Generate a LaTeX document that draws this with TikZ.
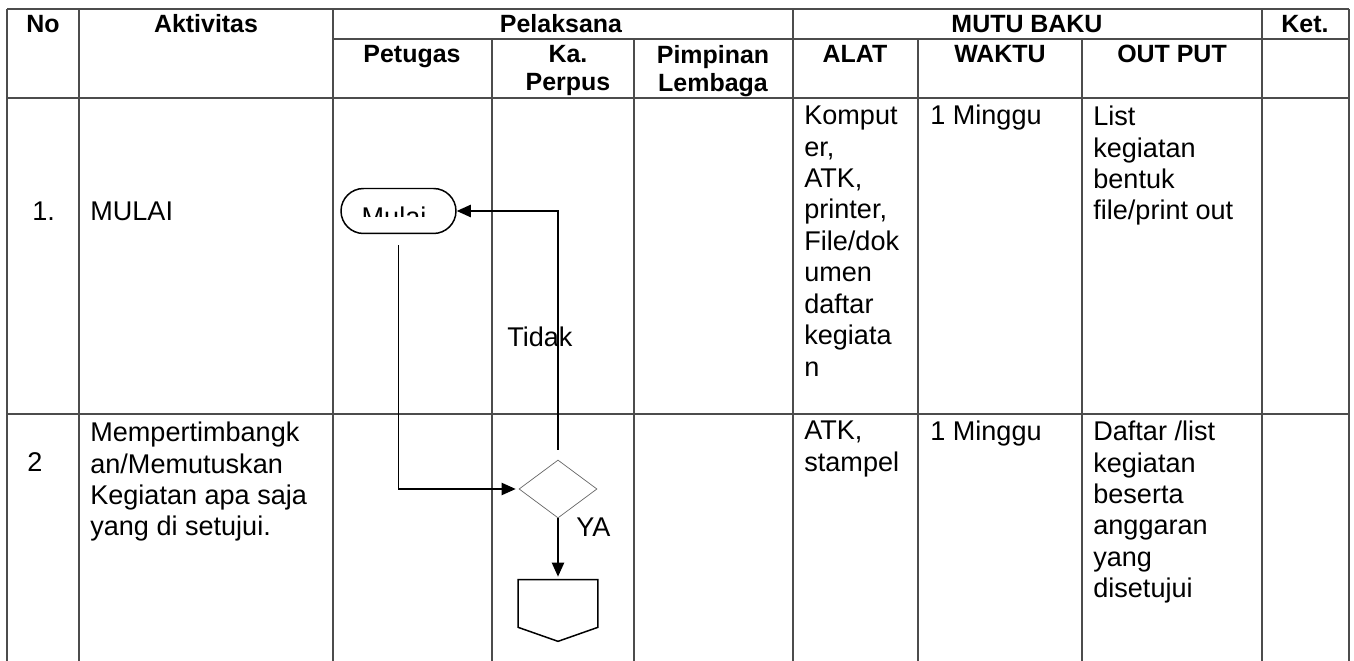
\documentclass[tikz,border=0pt]{standalone}
\usepackage{fontspec}
\setmainfont{Liberation Sans}
\usetikzlibrary{arrows.meta, positioning, shapes.geometric, shapes.misc}

\tikzset{
	grid/.style={draw=black!70, line width=0.6pt},
	flow/.style={line width=0.85pt, -{Triangle[length=8pt, width=7pt]}},
	head/.style={font=\bfseries\fontsize{14.2}{15.9}\selectfont, inner sep=0pt, align=center},
	body/.style={font=\fontsize{15.4}{17.9}\selectfont, inner sep=0pt, align=left},
	terminal/.style={rounded rectangle, draw, line width=0.85pt, minimum width=2.3cm, minimum height=0.9cm, inner sep=0pt},
	decision/.style={diamond, draw=black!60, line width=0.4pt, minimum width=1.56cm, minimum height=1.16cm, inner sep=0pt},
	offpagebox/.style={rectangle, minimum width=1.58cm, minimum height=1.22cm, inner sep=0pt},
}

\begin{document}
\begin{tikzpicture}[x=0.02cm, y=-0.02cm]
		\useasboundingbox (0,0) rectangle (1354,661);
		% Table lines:
		\draw[grid] (7,9) -- (1349,9);
		\draw[grid] (333,39) -- (1349,39);
		\draw[grid] (7,98) -- (1349,98);
		\draw[grid] (7,414) -- (1349,414);
		\draw[grid] (7,9) -- (7,661);
		\draw[grid] (79,9) -- (79,661);
		\draw[grid] (333,9) -- (333,661);
		\draw[grid] (492,39) -- (492,661);
		\draw[grid] (634,39) -- (634,661);
		\draw[grid] (793,9) -- (793,661);
		\draw[grid] (918,39) -- (918,661);
		\draw[grid] (1082,39) -- (1082,661);
		\draw[grid] (1262,9) -- (1262,661);
		\draw[grid] (1349,9) -- (1349,661);
		% Header:
		\node[head, anchor=base] (hNo) at (43,33) {No};
		\node[head, anchor=base] (hAkt) at (206,33) {Aktivitas};
		\node[head, anchor=base] (hPel) at (561,33) {Pelaksana};
		\node[head, anchor=base] (hMutu) at (1027,33) {MUTU BAKU};
		\node[head, anchor=base] (hKet) at (1305,33) {Ket.};
		\node[head, anchor=base] (hPet) at (412,63) {Petugas};
		\node[head, anchor=north] (hKa) at (568,45) {Ka.\\Perpus};
		\node[head, anchor=north] (hPim) at (713,45) {Pimpinan\\Lembaga};
		\node[head, anchor=base] (hAlat) at (855,63) {ALAT};
		\node[head, anchor=base] (hWaktu) at (1000,63) {WAKTU};
		\node[head, anchor=base] (hOut) at (1172,63) {OUT PUT};
		% Row 1:
		\node[body, anchor=base west] (no1) at (32,221) {1.};
		\node[body, anchor=base west] (akt1) at (90,221) {MULAI};
		\node[body, anchor=north west] (alat1) at (804,105.6) {Komput\\er,\\ATK,\\printer,\\File/dok\\umen\\daftar\\kegiata\\n};
		\node[body, anchor=base west] (waktu1) at (930,125) {1 Minggu};
		\node[body, anchor=north west] (out1) at (1093,105.6) {List\\kegiatan\\bentuk\\file/print out};
		% Row 2:
		\node[body, anchor=base west] (no2) at (27,472) {2};
		\node[body, anchor=north west] (akt2) at (90,421.6) {Mempertimbangk\\an/Memutuskan\\Kegiatan apa saja\\yang di setujui.};
		\node[body, anchor=north west] (alat2) at (804,420.6) {ATK,\\stampel};
		\node[body, anchor=base west] (waktu2) at (930,440) {1 Minggu};
		\node[body, anchor=north west] (out2) at (1093,420.6) {Daftar /list\\kegiatan\\beserta\\anggaran\\yang\\disetujui};
		% Flow:
		\node[terminal] (mulai) at (398.5,211) {};
		\begin{scope}
			\clip (341,187) rectangle (456,217);
			\node[body, anchor=base] (mulaiTeks) at (394,227) {Mulai};
		\end{scope}
		\node[decision] (keputusan) at (558,489) {};
		\node[offpagebox] (offpage) at (558,610.5) {};
		\draw[line width=0.85pt] (offpage.north west) -- (offpage.north east) -- ([yshift=0.28cm]offpage.south east) -- (offpage.south) -- ([yshift=0.28cm]offpage.south west) -- cycle;
		\draw[flow, shorten <=0.22cm, shorten >=0.06cm] (mulai.south) |- (keputusan.west);
		\draw[flow, shorten <=0.2cm] (keputusan.north) |- (mulai.east);
		\draw[flow, shorten >=0.06cm] (keputusan.south) -- (offpage.north);
		\node[body, anchor=base west] (tidak) at (507,347) {Tidak};
		\node[body, anchor=base west] (ya) at (576,536) {YA};
	\end{tikzpicture}
\end{document}
